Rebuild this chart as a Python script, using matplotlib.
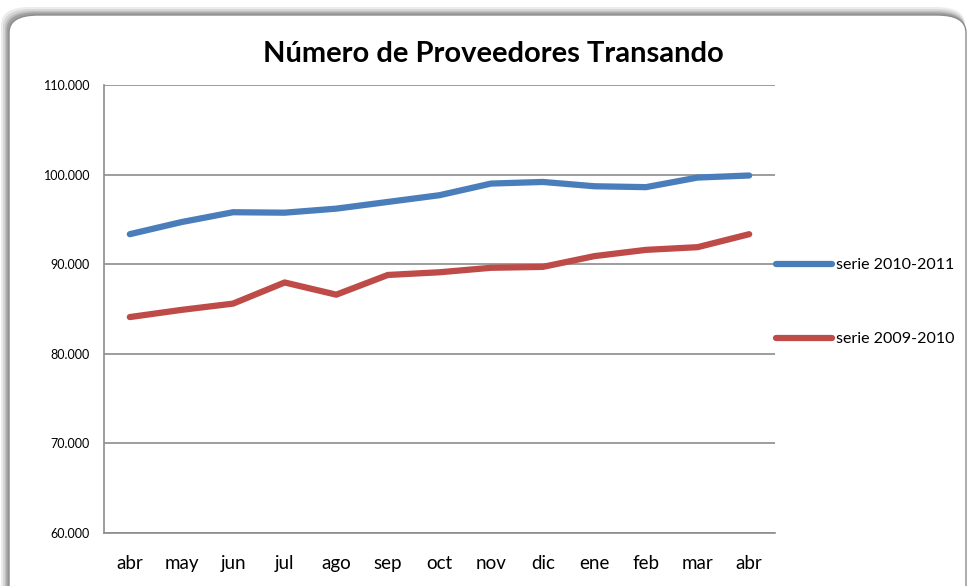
import matplotlib
matplotlib.use("Agg")
import matplotlib.pyplot as plt
from matplotlib.patches import FancyBboxPatch
from matplotlib.ticker import FuncFormatter

months = ["abr", "may", "jun", "jul", "ago", "sep", "oct", "nov", "dic", "ene", "feb", "mar", "abr"]
serie_2010_2011 = [93350, 94700, 95800, 95750, 96200, 96950, 97700, 99000, 99180, 98700, 98600, 99670, 99900]
serie_2009_2010 = [84100, 84900, 85600, 87960, 86600, 88800, 89100, 89600, 89700, 90900, 91600, 91900, 93350]
y_ticks = [60000, 70000, 80000, 90000, 100000, 110000]

plt.rcParams['font.family'] = ['Lato', 'DejaVu Sans']

fig = plt.figure(figsize=(9.67, 5.86), dpi=100)
W, H = 967, 586

# frame with shadow
for i, (off, c) in enumerate([(7, '#ececec'), (5, '#d6d6d6'), (3, '#bdbdbd'), (1.5, '#a0a0a0')]):
    p = FancyBboxPatch(((8 - off) / W, -0.2), (957 + off) / W, (586 - 14 + off) / H + 0.2,
                       boxstyle="round,pad=0,rounding_size=0.03", transform=fig.transFigure,
                       facecolor=c, edgecolor='none', zorder=-10 + i)
    fig.patches.append(p)
frame = FancyBboxPatch((9 / W, -0.2), 957 / W, (586 - 15) / H + 0.2,
                       boxstyle="round,pad=0,rounding_size=0.03", transform=fig.transFigure,
                       facecolor='white', edgecolor='#8c8c8c', linewidth=1.0, zorder=-5)
fig.patches.append(frame)

ax = fig.add_axes([104 / W, (586 - 533) / H, (775 - 104) / W, (533 - 85) / H])
ax.set_facecolor('none')
x = list(range(len(months)))
ax.plot(x, serie_2010_2011, color='#4a7ebb', linewidth=4.5, solid_capstyle='round',
        solid_joinstyle='round', label='serie 2010-2011', zorder=3)
ax.plot(x, serie_2009_2010, color='#be4b48', linewidth=4.5, solid_capstyle='round',
        solid_joinstyle='round', label='serie 2009-2010', zorder=3)

ax.set_xlim(-0.5, len(months) - 0.5)
ax.set_ylim(60000, 110000)
ax.set_yticks(y_ticks)
ax.yaxis.set_major_formatter(FuncFormatter(lambda v, p: f"{int(v):,}".replace(",", ".")))
ax.set_xticks(x)
ax.set_xticklabels(months)
ax.grid(axis='y', color='#8c8c8c', linewidth=1.2)
ax.set_axisbelow(True)
for s in ['top', 'right']:
    ax.spines[s].set_visible(False)
ax.spines['left'].set_color('#8c8c8c')
ax.spines['bottom'].set_color('#8c8c8c')
ax.spines['left'].set_linewidth(1.2)
ax.spines['bottom'].set_linewidth(1.2)
ax.tick_params(axis='y', length=0, pad=10, labelsize=9, colors='black')
ax.tick_params(axis='x', length=0, pad=16, labelsize=13.5, colors='black')

fig.text(493 / W, 1 - 54 / H, "Número de Proveedores Transando", ha='center', va='center',
         fontsize=21, fontweight='bold')

leg = ax.legend(loc='upper left', bbox_to_anchor=(776 / W, 1 - 258 / H), bbox_transform=fig.transFigure,
                frameon=False, fontsize=11.5, handlelength=3.5, handletextpad=0.25,
                labelspacing=3.75, borderaxespad=0, borderpad=0)

fig.savefig("out.png", dpi=100)
